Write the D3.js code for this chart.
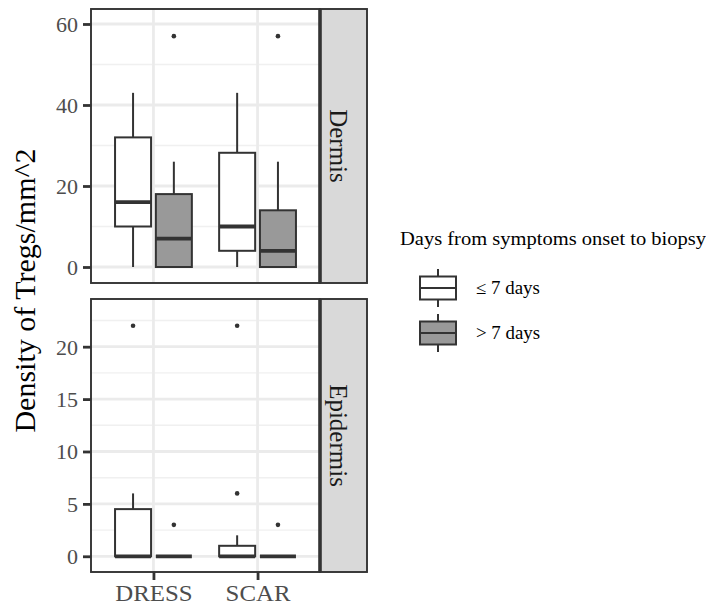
<!DOCTYPE html>
<html><head><meta charset="utf-8">
<script src="https://cdn.jsdelivr.net/npm/d3@7"></script>
<style>body{margin:0;background:#fff}svg{display:block}</style>
</head><body><svg id="chart" width="706" height="606"></svg>
<script>
const categories = ["DRESS", "SCAR"];
const groups = ["≤ 7 days", "> 7 days"];
const facets = ["Dermis", "Epidermis"];
// five-number summaries per category: [lower whisker, q1, median, q3, upper whisker]
const dermisEarly = [[0, 10, 16, 32, 43], [0, 4, 10, 28.2, 43]];
const dermisLate = [[0, 0, 7, 18, 26], [0, 0, 4, 14, 26]];
const epidermisEarly = [[0, 0, 0, 4.5, 6], [0, 0, 0, 1, 2]];
const epidermisLate = [[0, 0, 0, 0, 0], [0, 0, 0, 0, 0]];
// outlying observations per category
const dermisEarlyOut = [[], []];
const dermisLateOut = [[57], [57]];
const epidermisEarlyOut = [[22], [22, 6]];
const epidermisLateOut = [[3], [3]];
const dermisTicks = [0, 20, 40, 60];
const epidermisTicks = [0, 5, 10, 15, 20];

const FONT = "'Liberation Serif','Times New Roman',serif";
const groupFill = ["#ffffff", "#999999"];
const ink = "#333333";

const svg = d3.select("#chart");
const px0 = 91, px1 = 320, stripW = 47;

const x = d3.scalePoint().domain(categories).range([px0, px1]).padding(0.6);
const step = x.step();
const dodge = [-0.196 * step, 0.196 * step];
const boxW = 0.346 * step;

const panels = [
  { name: facets[0], top: 9, bottom: 283, domain: [-3.95, 63.7], ticks: dermisTicks,
    stats: [dermisEarly, dermisLate], outs: [dermisEarlyOut, dermisLateOut] },
  { name: facets[1], top: 299, bottom: 572, domain: [-1.5, 24.55], ticks: epidermisTicks,
    stats: [epidermisEarly, epidermisLate], outs: [epidermisEarlyOut, epidermisLateOut] }
];

panels.forEach((p, pi) => {
  const y = d3.scaleLinear().domain(p.domain).range([p.bottom, p.top]);
  const g = svg.append("g");
  // background
  g.append("rect").attr("x", px0).attr("y", p.top).attr("width", px1 - px0).attr("height", p.bottom - p.top).attr("fill", "#fff");
  // minor grid halfway between breaks
  const d = p.ticks[1] - p.ticks[0];
  const minor = p.ticks.map(t => t + d / 2).filter(m => m < p.domain[1]);
  g.selectAll(".minor").data(minor).join("line")
    .attr("x1", px0).attr("x2", px1).attr("y1", v => y(v)).attr("y2", v => y(v))
    .attr("stroke", "#f0f0f0").attr("stroke-width", 1.4);
  // major grid
  g.selectAll(".major").data(p.ticks).join("line")
    .attr("x1", px0).attr("x2", px1).attr("y1", v => y(v)).attr("y2", v => y(v))
    .attr("stroke", "#ebebeb").attr("stroke-width", 2.8);
  g.selectAll(".vmajor").data(categories).join("line")
    .attr("x1", c => x(c)).attr("x2", c => x(c)).attr("y1", p.top).attr("y2", p.bottom)
    .attr("stroke", "#ebebeb").attr("stroke-width", 2.8);

  // boxes
  p.stats.forEach((gs, gi) => {
    gs.forEach((s, ci) => {
      const cx = x(categories[ci]) + dodge[gi];
      const [lo, q1, med, q3, hi] = s;
      g.append("line").attr("x1", cx).attr("x2", cx).attr("y1", y(q3)).attr("y2", y(hi))
        .attr("stroke", ink).attr("stroke-width", 2);
      g.append("line").attr("x1", cx).attr("x2", cx).attr("y1", y(lo)).attr("y2", y(q1))
        .attr("stroke", ink).attr("stroke-width", 2);
      g.append("rect").attr("x", cx - boxW / 2).attr("width", boxW)
        .attr("y", y(q3)).attr("height", Math.max(0, y(q1) - y(q3)))
        .attr("fill", groupFill[gi]).attr("stroke", ink).attr("stroke-width", 2);
      g.append("line").attr("x1", cx - boxW / 2).attr("x2", cx + boxW / 2)
        .attr("y1", y(med)).attr("y2", y(med))
        .attr("stroke", ink).attr("stroke-width", 3.8);
      p.outs[gi][ci].forEach(v => {
        g.append("circle").attr("cx", cx).attr("cy", y(v)).attr("r", 2.3).attr("fill", ink);
      });
    });
  });

  // panel border
  g.append("rect").attr("x", px0).attr("y", p.top).attr("width", px1 - px0).attr("height", p.bottom - p.top)
    .attr("fill", "none").attr("stroke", ink).attr("stroke-width", 1.9);
  // strip
  g.append("rect").attr("x", px1).attr("y", p.top).attr("width", stripW).attr("height", p.bottom - p.top)
    .attr("fill", "#d9d9d9").attr("stroke", ink).attr("stroke-width", 1.9);
  g.append("line").attr("x1", px1).attr("x2", px1).attr("y1", p.top).attr("y2", p.bottom)
    .attr("stroke", ink).attr("stroke-width", 3.6);
  g.append("text").attr("transform", `translate(330,${(p.top + p.bottom) / 2}) rotate(90)`)
    .attr("text-anchor", "middle").attr("font-family", FONT).attr("font-size", 25).attr("fill", "#1a1a1a")
    .text(p.name);

  // y axis
  const ax = g.append("g").attr("transform", `translate(${px0},0)`)
    .call(d3.axisLeft(y).tickValues(p.ticks).tickSize(8).tickPadding(5));
  ax.select(".domain").remove();
  ax.selectAll(".tick line").attr("stroke", ink).attr("stroke-width", 2.8);
  ax.selectAll(".tick text").attr("font-family", FONT).attr("font-size", 22).attr("fill", "#4d4d4d")
    .attr("dy", "0.34em");

  if (pi === panels.length - 1) {
    const bx = g.append("g").attr("transform", `translate(0,${p.bottom})`)
      .call(d3.axisBottom(x).tickSize(8).tickPadding(4));
    bx.select(".domain").remove();
    bx.selectAll(".tick line").attr("stroke", ink).attr("stroke-width", 2.8);
    bx.selectAll(".tick text").attr("font-family", FONT).attr("font-size", 23).attr("fill", "#4d4d4d")
      .attr("dy", "0.75em").attr("transform", "scale(1.08,1)");
  }
});

// y axis title
svg.append("text")
  .attr("transform", `translate(35,${(9 + 572) / 2}) rotate(-90)`)
  .attr("text-anchor", "middle").attr("font-family", FONT).attr("font-size", 30).attr("fill", "#000")
  .text("Density of Tregs/mm^2");

// legend
const lg = svg.append("g");
lg.append("text").attr("transform", "translate(400,245) scale(1.14,1)")
  .attr("font-family", FONT).attr("font-size", 18).attr("fill", "#000")
  .text("Days from symptoms onset to biopsy");
const keyY = [288, 333];
groups.forEach((name, i) => {
  const cy = keyY[i], cx = 438;
  lg.append("line").attr("x1", cx).attr("x2", cx).attr("y1", cy - 19).attr("y2", cy + 19)
    .attr("stroke", ink).attr("stroke-width", 2);
  lg.append("rect").attr("x", cx - 18).attr("y", cy - 11.5).attr("width", 36).attr("height", 23)
    .attr("fill", groupFill[i]).attr("stroke", ink).attr("stroke-width", 2);
  lg.append("line").attr("x1", cx - 18).attr("x2", cx + 18).attr("y1", cy).attr("y2", cy)
    .attr("stroke", ink).attr("stroke-width", 2);
  lg.append("text").attr("transform", `translate(476,${cy + 6}) scale(1.05,1)`)
    .attr("font-family", FONT).attr("font-size", 18).attr("fill", "#000")
    .text(name);
});
</script></body></html>
